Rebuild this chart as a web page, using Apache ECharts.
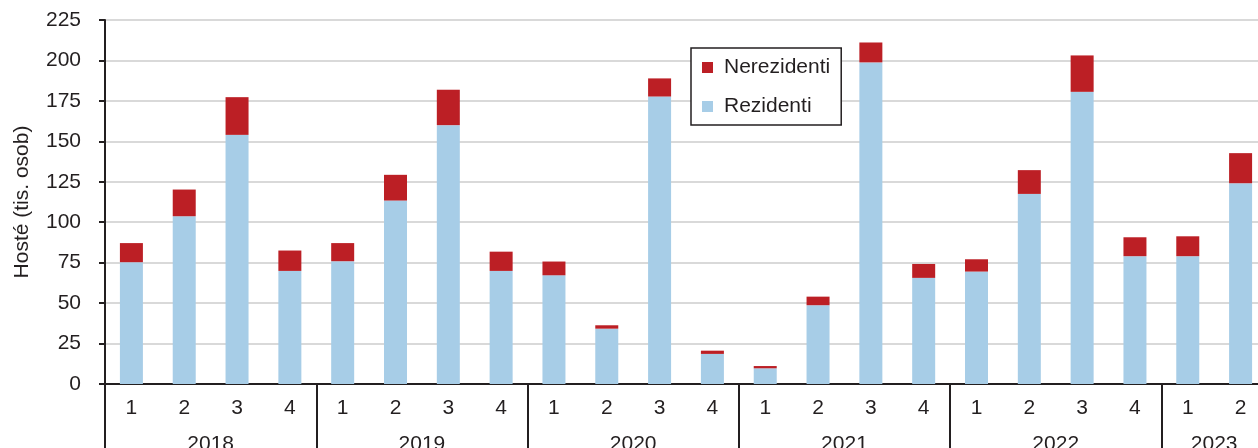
<!DOCTYPE html>
<html>
<head>
<meta charset="utf-8">
<title>Hosté</title>
<script src="https://cdn.jsdelivr.net/npm/echarts@6/dist/echarts.min.js"></script>
<style>
  html, body { margin: 0; padding: 0; background: #fff; }
  #main { width: 1258px; height: 448px; }
</style>
</head>
<body>
<div id="main"></div>
<script>
// data (tis. osob)
var quarters = ['1', '2', '3', '4', '1', '2', '3', '4', '1', '2', '3', '4',
  '1', '2', '3', '4', '1', '2', '3', '4', '1', '2']
var barYears = ['2018', '2018', '2018', '2018', '2019', '2019', '2019', '2019',
  '2020', '2020', '2020', '2020', '2021', '2021', '2021', '2021',
  '2022', '2022', '2022', '2022', '2023', '2023']
var rezidenti = [75.3, 103.7, 154.0, 69.9, 75.9, 113.4, 160.0, 69.9,
  67.2, 34.2, 177.7, 18.6, 9.7, 48.7, 198.8, 65.6,
  69.5, 117.5, 180.6, 79.0, 79.0, 124.1]
var nerezidenti = [11.8, 16.5, 23.3, 12.6, 11.2, 15.9, 21.9, 11.9,
  8.5, 2.1, 11.2, 2.0, 1.4, 5.3, 12.3, 8.6,
  7.6, 14.7, 22.5, 11.7, 12.3, 18.6]
var yTicks = { min: 0, max: 225, step: 25 }

// year axis: points on the bar boundaries (0..n) and half-way
var boundaries = [0]
var centres = {}
var start = 0
for (var i = 1; i <= barYears.length; i++) {
  if (i === barYears.length || barYears[i] !== barYears[i - 1]) {
    boundaries.push(i)
    // centre of the year in half-bar units
    centres[start + i] = barYears[i - 1]
    start = i
  }
}
var yearPoints = []
for (var k = 0; k <= barYears.length * 2; k++) yearPoints.push(String(k))

var dark = '#231f20'
var fs = 21
var chart = echarts.init(document.getElementById('main'))
var option = {
  animation: false,
  textStyle: { fontFamily: 'Liberation Sans, Arial, sans-serif' },
  grid: {
    left: 105, top: 20, width: 1162, height: 364,
    outerBoundsMode: 'none',
    containLabel: false,
    show: true, borderColor: dark, borderWidth: 2, backgroundColor: 'transparent'
  },
  legend: {
    data: ['Nerezidenti', 'Rezidenti'],
    orient: 'vertical',
    left: 691, top: 48,
    padding: [9, 11, 8, 11],
    itemGap: 18,
    itemWidth: 11, itemHeight: 11,
    icon: 'rect',
    borderColor: dark, borderWidth: 1.5,
    backgroundColor: '#fff',
    textStyle: { fontSize: fs, color: dark, padding: [0, 0, 0, 6] }
  },
  xAxis: [
    {
      type: 'category',
      data: quarters,
      axisLine: { lineStyle: { color: dark, width: 2 } },
      axisTick: { length: 36, interval: 0, lineStyle: { color: dark, width: 2 } },
      axisLabel: { fontSize: fs, color: dark, margin: 14, interval: 0 }
    },
    {
      type: 'category',
      position: 'bottom',
      data: yearPoints,
      boundaryGap: false,
      axisLine: { show: false },
      axisTick: {
        length: 66,
        interval: function (idx) { return idx % 2 === 0 && boundaries.indexOf(idx / 2) >= 0 },
        lineStyle: { color: dark, width: 2 }
      },
      axisLabel: {
        fontSize: fs, color: dark, margin: 50, interval: 0,
        formatter: function (v, idx) { return centres[idx] || '' }
      }
    }
  ],
  yAxis: {
    type: 'value',
    min: yTicks.min, max: yTicks.max, interval: yTicks.step,
    name: 'Hosté (tis. osob)',
    nameLocation: 'middle',
    nameGap: 72,
    nameTextStyle: { fontSize: fs, color: dark },
    axisLine: { show: true, lineStyle: { color: dark, width: 2 } },
    axisTick: { show: true, length: 6, lineStyle: { color: dark, width: 2 } },
    axisLabel: { fontSize: fs, color: dark, margin: 24 },
    splitLine: { lineStyle: { color: '#d9d9d9', width: 2 } }
  },
  series: [
    {
      name: 'Rezidenti',
      type: 'bar',
      stack: 'all',
      data: rezidenti,
      barWidth: 23,
      itemStyle: { color: '#a7cde7' }
    },
    {
      name: 'Nerezidenti',
      type: 'bar',
      stack: 'all',
      data: nerezidenti,
      barWidth: 23,
      itemStyle: { color: '#bc1f25' }
    }
  ]
}
chart.setOption(option)
</script>
</body>
</html>
